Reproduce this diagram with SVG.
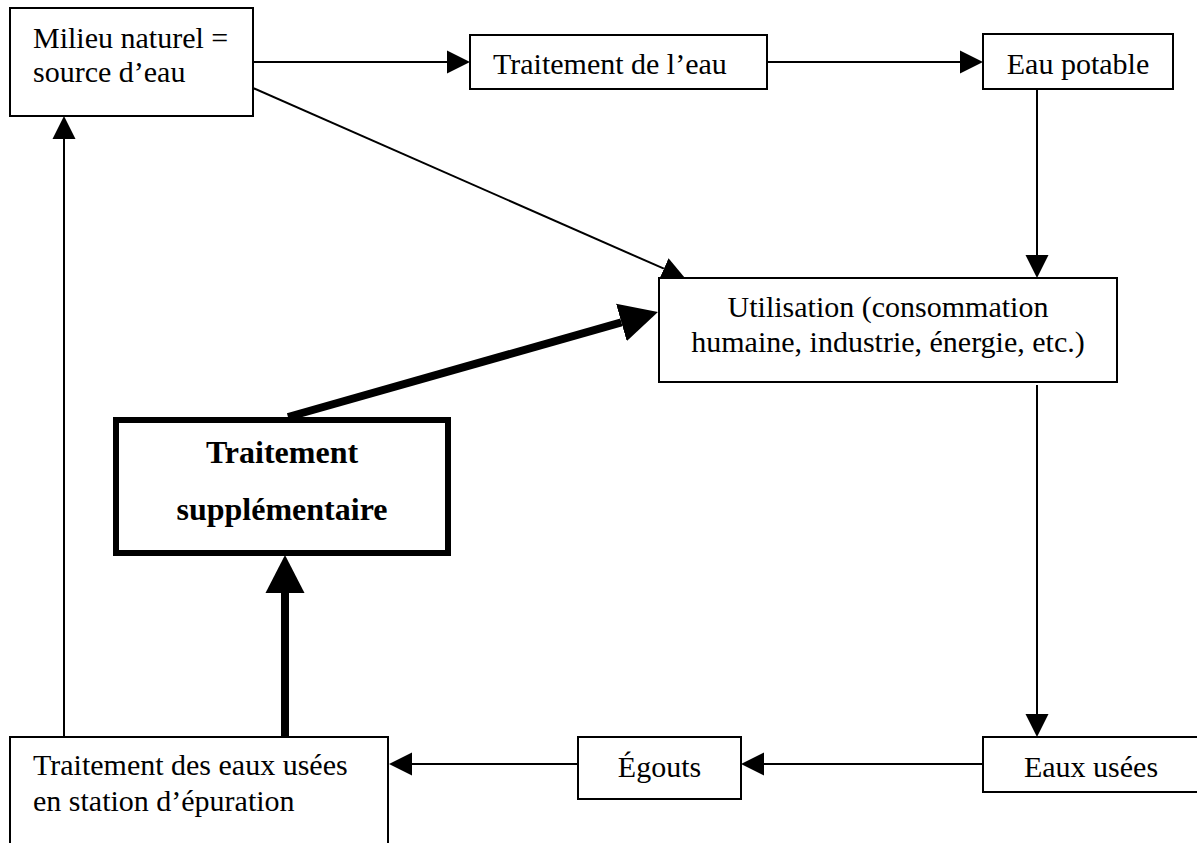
<svg xmlns="http://www.w3.org/2000/svg" width="1197" height="843" viewBox="0 0 1197 843">
<style>
.box{fill:#fff;stroke:#000;stroke-width:2}
.bold-box{fill:#fff;stroke:#000;stroke-width:6}
.t{font-family:"Liberation Serif","Times New Roman",serif;font-size:30px;fill:#000}
.tb{font-family:"Liberation Serif","Times New Roman",serif;font-size:32px;font-weight:bold;fill:#000}
.c{text-anchor:middle}
.ln{fill:none;stroke:#000;stroke-width:2}
.thick{fill:none;stroke:#000;stroke-width:8}
</style>
<defs>
<marker id="ah" markerUnits="userSpaceOnUse" markerWidth="24" markerHeight="24" refX="0" refY="11.5" orient="auto" viewBox="0 0 24 23">
<path d="M0,0 L23,11.5 L0,23 z" fill="#000"/>
</marker>
<marker id="ahb" markerUnits="userSpaceOnUse" markerWidth="40" markerHeight="40" refX="0" refY="19.5" orient="auto" viewBox="0 0 40 39">
<path d="M0,0 L38,19.5 L0,39 z" fill="#000"/>
</marker>
</defs>
<rect width="1197" height="843" fill="#fff"/>
<g id="connectors">
<line class="ln" x1="253" y1="62" x2="447" y2="62" marker-end="url(#ah)"/>
<line class="ln" x1="767" y1="62" x2="960" y2="62" marker-end="url(#ah)"/>
<line class="ln" x1="1037" y1="89" x2="1037" y2="255" marker-end="url(#ah)"/>
<line class="ln" x1="253" y1="88" x2="663.9" y2="268.7" marker-end="url(#ah)"/>
<line class="ln" x1="1037" y1="385" x2="1037" y2="714" marker-end="url(#ah)"/>
<line class="ln" x1="983" y1="764" x2="764" y2="764" marker-end="url(#ah)"/>
<line class="ln" x1="578" y1="764" x2="412" y2="764" marker-end="url(#ah)"/>
<line class="ln" x1="64" y1="737" x2="64" y2="139" marker-end="url(#ah)"/>
<line class="thick" x1="285" y1="741" x2="285" y2="593" marker-end="url(#ahb)"/>
<line class="thick" x1="288" y1="417" x2="621.4" y2="322.4" marker-end="url(#ahb)"/>
</g>
<g id="milieu">
<rect class="box" x="10" y="8" width="243" height="108"/>
<text class="t" x="33" y="48">Milieu naturel =</text>
<text class="t" x="33" y="82">source d’eau</text>
</g>
<g id="traitement-eau">
<rect class="box" x="470" y="35" width="297" height="54"/>
<text class="t" x="493" y="74">Traitement de l’eau</text>
</g>
<g id="eau-potable">
<rect class="box" x="983" y="34" width="190" height="55"/>
<text class="t c" x="1078" y="74">Eau potable</text>
</g>
<g id="utilisation">
<rect class="box" x="659" y="278" width="458" height="104"/>
<text class="t c" x="888" y="317">Utilisation (consommation</text>
<text class="t c" x="888" y="352">humaine, industrie, énergie, etc.)</text>
</g>
<g id="traitement-supplementaire">
<rect class="bold-box" x="116" y="420" width="332" height="133"/>
<text class="tb c" x="282" y="463">Traitement</text>
<text class="tb c" x="282" y="520">supplémentaire</text>
</g>
<g id="traitement-eaux-usees">
<rect class="box" x="10" y="737" width="378" height="120"/>
<text class="t" x="33" y="775">Traitement des eaux usées</text>
<text class="t" x="33" y="811">en station d’épuration</text>
</g>
<g id="egouts">
<rect class="box" x="578" y="737" width="163" height="62"/>
<text class="t c" x="659.5" y="777">Égouts</text>
</g>
<g id="eaux-usees">
<rect class="box" x="983" y="737" width="217" height="55"/>
<text class="t c" x="1091" y="777">Eaux usées</text>
</g>
</svg>
